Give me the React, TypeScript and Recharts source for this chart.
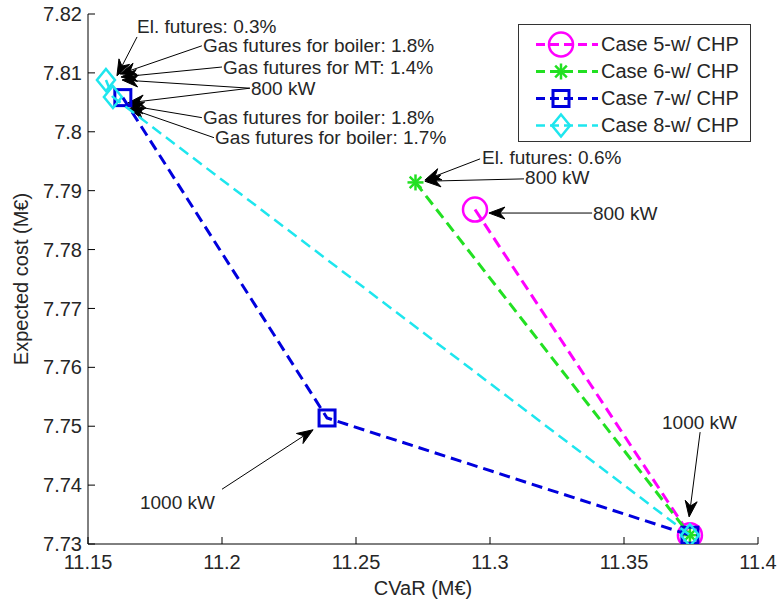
import React from "react";
import {
  ScatterChart,
  Scatter,
  XAxis,
  YAxis,
  Legend,
  ReferenceLine,
  ReferenceDot,
} from "recharts";

// axis ticks
const xTicks = [11.15, 11.2, 11.25, 11.3, 11.35, 11.4];
const yTicks = [7.73, 7.74, 7.75, 7.76, 7.77, 7.78, 7.79, 7.8, 7.81, 7.82];

// series (CVaR, expected cost)
const case5 = [
  { x: 11.2944, y: 7.7868 },
  { x: 11.3746, y: 7.7315 },
];
const case6 = [
  { x: 11.2722, y: 7.7914 },
  { x: 11.3746, y: 7.7315 },
];
const case7 = [
  { x: 11.163, y: 7.8058 },
  { x: 11.2392, y: 7.7514 },
  { x: 11.3746, y: 7.7315 },
];
const case8 = [
  { x: 11.1567, y: 7.8088 },
  { x: 11.1593, y: 7.8059 },
  { x: 11.3746, y: 7.7315 },
];

// annotation texts (left edge, middle)
const notes = [
  { text: "El. futures: 0.3%", x: 11.1683, y: 7.8178 },
  { text: "Gas futures for boiler: 1.8%", x: 11.1929, y: 7.8147 },
  { text: "Gas futures for MT: 1.4%", x: 11.2004, y: 7.811 },
  { text: "800 kW", x: 11.2108, y: 7.8074 },
  { text: "Gas futures for boiler: 1.8%", x: 11.1929, y: 7.8024 },
  { text: "Gas futures for boiler: 1.7%", x: 11.1974, y: 7.799 },
  { text: "El. futures: 0.6%", x: 11.297, y: 7.7957 },
  { text: "800 kW", x: 11.3131, y: 7.7922 },
  { text: "800 kW", x: 11.3384, y: 7.7862 },
  { text: "1000 kW", x: 11.3642, y: 7.7507 },
  { text: "1000 kW", x: 11.1694, y: 7.7371 },
];

// arrows: tail -> head
const arrows = [
  { x1: 11.1683, y1: 7.8161, x2: 11.1608, y2: 7.8095 },
  { x1: 11.1925, y1: 7.8146, x2: 11.1619, y2: 7.8098 },
  { x1: 11.2, y1: 7.811, x2: 11.1623, y2: 7.8093 },
  { x1: 11.2104, y1: 7.8074, x2: 11.1627, y2: 7.8088 },
  { x1: 11.2104, y1: 7.8074, x2: 11.1649, y2: 7.8049 },
  { x1: 11.1925, y1: 7.8024, x2: 11.1649, y2: 7.8045 },
  { x1: 11.197, y1: 7.799, x2: 11.1653, y2: 7.804 },
  { x1: 11.2963, y1: 7.7954, x2: 11.2757, y2: 7.7918 },
  { x1: 11.3127, y1: 7.792, x2: 11.2757, y2: 7.7916 },
  { x1: 11.3381, y1: 7.7862, x2: 11.2996, y2: 7.7862 },
  { x1: 11.3784, y1: 7.749, x2: 11.3743, y2: 7.7346 },
  { x1: 11.2, y1: 7.7393, x2: 11.234, y2: 7.7494 },
];

const series = [
  { name: "Case 5-w/ CHP", data: case5, color: "#ff00ff", marker: "circle", width: 3 },
  { name: "Case 6-w/ CHP", data: case6, color: "#22e022", marker: "star", width: 3 },
  { name: "Case 7-w/ CHP", data: case7, color: "#0000dd", marker: "square", width: 3 },
  { name: "Case 8-w/ CHP", data: case8, color: "#1ee6ee", marker: "diamond", width: 2.5 },
];

const FONT = "'Liberation Sans', Arial, sans-serif";
const DASH = "11 6";
const TEXT = "#262626";

// MATLAB style marker
const renderMarker = (kind: string, color: string, cx: number, cy: number) => {
  switch (kind) {
    case "circle":
      return <circle cx={cx} cy={cy} r={12} fill="none" stroke={color} strokeWidth={2.5} />;
    case "star": {
      const s = 8;
      const d = 5.8;
      return (
        <g stroke={color} strokeWidth={2.5}>
          <line x1={cx - s} y1={cy} x2={cx + s} y2={cy} />
          <line x1={cx} y1={cy - s} x2={cx} y2={cy + s} />
          <line x1={cx - d} y1={cy - d} x2={cx + d} y2={cy + d} />
          <line x1={cx - d} y1={cy + d} x2={cx + d} y2={cy - d} />
        </g>
      );
    }
    case "square":
      return (
        <rect x={cx - 8} y={cy - 8} width={16} height={16} fill="none" stroke={color} strokeWidth={3} />
      );
    default:
      return (
        <polygon
          points={`${cx},${cy - 11} ${cx + 9},${cy} ${cx},${cy + 11} ${cx - 9},${cy}`}
          fill="none"
          stroke={color}
          strokeWidth={2.5}
        />
      );
  }
};

const ArrowShape = (props: any) => {
  const { x1, y1, x2, y2 } = props;
  const ang = Math.atan2(y2 - y1, x2 - x1);
  const len = 16;
  const hw = 6;
  const bx = x2 - len * Math.cos(ang);
  const by = y2 - len * Math.sin(ang);
  const nx = x2 - (len - 5) * Math.cos(ang);
  const ny = y2 - (len - 5) * Math.sin(ang);
  const px = -Math.sin(ang) * hw;
  const py = Math.cos(ang) * hw;
  return (
    <g>
      <line x1={x1} y1={y1} x2={nx} y2={ny} stroke="#000" strokeWidth={1} />
      <polygon
        points={`${x2},${y2} ${bx + px},${by + py} ${nx},${ny} ${bx - px},${by - py}`}
        fill="#000"
        stroke="#000"
        strokeWidth={1}
      />
    </g>
  );
};

const LegendBox = () => (
  <div
    style={{
      border: "1px solid #333",
      background: "#fff",
      paddingTop: 6,
      paddingBottom: 2,
      boxSizing: "border-box",
      width: 233,
      fontFamily: FONT,
      fontSize: 20,
      color: TEXT,
    }}
  >
    {series.map((s) => (
      <div key={s.name} style={{ display: "flex", alignItems: "center", height: 27 }}>
        <svg width={82} height={27}>
          <line x1={17} y1={13.5} x2={79} y2={13.5} stroke={s.color} strokeWidth={s.width} strokeDasharray="9 5" />
          {renderMarker(s.marker, s.color, 42, 13.5)}
        </svg>
        <span>{s.name}</span>
      </div>
    ))}
  </div>
);

const App: React.FC = () => {
  const tickStyle = { fill: TEXT, fontSize: 20, fontFamily: FONT };
  return (
    <div style={{ position: "absolute", left: 0, top: 0, background: "#fff", fontFamily: FONT }}>
      <ScatterChart width={782} height={602} margin={{ top: 14, right: 24, bottom: 0, left: 0 }}>
        <XAxis
          type="number"
          dataKey="x"
          domain={[11.15, 11.4]}
          ticks={xTicks}
          allowDataOverflow
          height={58}
          stroke="#000"
          tickSize={-7}
          tickMargin={18}
          tick={tickStyle}
          label={(p: any) => {
            const vb = p.viewBox;
            return (
              <text
                x={vb.x + vb.width / 2}
                y={vb.y + 44}
                textAnchor="middle"
                dominantBaseline="central"
                fill={TEXT}
                fontSize={20}
                fontFamily={FONT}
              >
                CVaR (M€)
              </text>
            );
          }}
        />
        <XAxis
          xAxisId="top"
          orientation="top"
          type="number"
          dataKey="x"
          domain={[11.15, 11.4]}
          ticks={xTicks}
          allowDataOverflow
          height={0}
          stroke="#000"
          tickSize={-7}
          tick={false}
        />
        <YAxis
          type="number"
          dataKey="y"
          domain={[7.73, 7.82]}
          ticks={yTicks}
          allowDataOverflow
          width={88}
          stroke="#000"
          tickSize={-7}
          tickMargin={13}
          tick={tickStyle}
          label={(p: any) => {
            const vb = p.viewBox;
            const cx = 21;
            const cy = vb.y + vb.height / 2;
            return (
              <text
                x={cx}
                y={cy}
                transform={`rotate(-90, ${cx}, ${cy})`}
                textAnchor="middle"
                dominantBaseline="central"
                fill={TEXT}
                fontSize={20}
                fontFamily={FONT}
              >
                Expected cost (M€)
              </text>
            );
          }}
        />
        <YAxis
          yAxisId="right"
          orientation="right"
          type="number"
          dataKey="y"
          domain={[7.73, 7.82]}
          ticks={yTicks}
          allowDataOverflow
          width={0}
          stroke="#000"
          tickSize={-7}
          tick={false}
        />
        {series.map((s) => (
          <Scatter
            key={s.name}
            name={s.name}
            data={s.data}
            fill={s.color}
            line={{ stroke: s.color, strokeWidth: s.width, strokeDasharray: DASH }}
            lineType="joint"
            isAnimationActive={false}
            shape={(p: any) => renderMarker(s.marker, s.color, p.cx, p.cy)}
          />
        ))}
        {arrows.map((a, i) => (
          <ReferenceLine
            key={`a${i}`}
            segment={[
              { x: a.x1, y: a.y1 },
              { x: a.x2, y: a.y2 },
            ]}
            shape={ArrowShape}
          />
        ))}
        {notes.map((n, i) => (
          <ReferenceDot
            key={`n${i}`}
            x={n.x}
            y={n.y}
            r={0}
            shape={(p: any) => (
              <text
                x={p.cx}
                y={p.cy}
                dominantBaseline="central"
                fill={TEXT}
                fontSize={19}
                fontFamily={FONT}
              >
                {n.text}
              </text>
            )}
          />
        ))}
        <Legend
          layout="vertical"
          align="center"
          verticalAlign="middle"
          wrapperStyle={{ left: 518, top: 24, width: 233 }}
          content={() => <LegendBox />}
        />
      </ScatterChart>
    </div>
  );
};

export default App;
